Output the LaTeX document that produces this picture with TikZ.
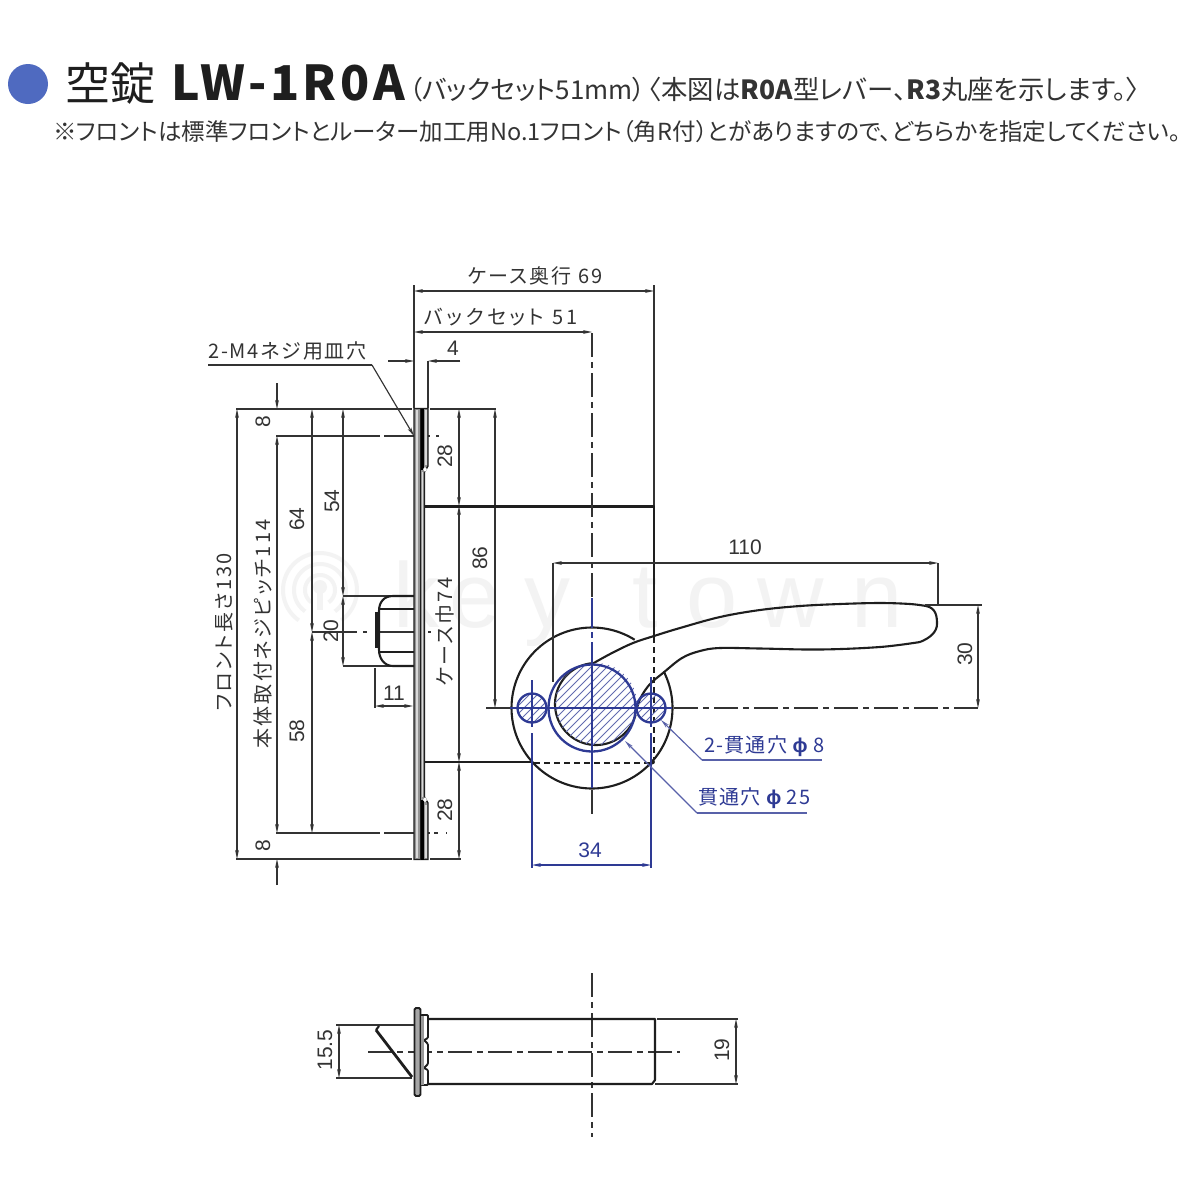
\documentclass[tikz,border=0pt]{standalone}
\usepackage{fontspec}
\usetikzlibrary{arrows.meta}
\setmainfont{Noto Sans CJK JP}
\newfontfamily\jp[RawFeature=+palt]{Noto Sans CJK JP}
\newfontfamily\jps[RawFeature=+palt,LetterSpace=11]{Noto Sans CJK JP}
\newfontfamily\jpw[RawFeature=+palt,LetterSpace=6]{Noto Sans CJK JP}
\newfontfamily\dimf{Liberation Sans}
\newfontfamily\phif[LetterSpace=0]{Liberation Sans}
\newcommand{\fs}[1]{\fontsize{#1}{#1}\selectfont}
\newcommand{\phig}{{\phif\bfseries ϕ}}
\definecolor{ink}{HTML}{1E1E1E}
\definecolor{dimc}{HTML}{333333}
\definecolor{bl}{HTML}{2E3A94}
\definecolor{dot}{HTML}{4F6AC0}
\definecolor{wm}{HTML}{F3F3F3}
\tikzset{
  outl/.style={draw=ink,line width=2.1pt,line join=round},
  thin2/.style={draw=dimc,line width=1.15pt},
  dimen/.style={draw=dimc,line width=1.15pt,{Stealth[length=9pt,width=3.8pt]}-{Stealth[length=9pt,width=3.8pt]}},
  darr/.style={draw=dimc,line width=1.15pt,-{Stealth[length=9pt,width=3.8pt]}},
  bdim/.style={draw=bl,line width=1.15pt,{Stealth[length=9pt,width=3.8pt]}-{Stealth[length=9pt,width=3.8pt]}},
  barr/.style={draw=bl!80,line width=1.15pt,{Stealth[length=9pt,width=3.8pt]}-},
  cline/.style={draw=dimc,line width=1.15pt,dash pattern=on 24pt off 5pt on 6pt off 5pt},
  bline/.style={draw=bl,line width=1.3pt,dash pattern=on 30pt off 4pt on 6pt off 4pt},
  dsh/.style={draw=ink,line width=1.4pt,dash pattern=on 6pt off 4pt},
  dtxt/.style={inner sep=0pt,text=dimc,font=\dimf\fs{21}},
  dtxtr/.style={dtxt,rotate=90},
  jtxt/.style={inner sep=0pt,text=dimc,font=\jps\fs{20}},
  jtxtr/.style={jtxt,rotate=90},
  btxt/.style={inner sep=0pt,text=bl,font=\jpw\fs{20},anchor=west},
  plate/.style={draw=ink,line width=1.4pt,fill=black!42},
  wmk/.style={inner sep=0pt,anchor=base west,text=wm,font=\dimf\fs{92}},
}
\begin{document}
\begin{tikzpicture}[x=1pt,y=-1pt]
\useasboundingbox (0,0) rectangle (1200,1200);
\fill[white] (0,0) rectangle (1200,1200);
% watermark
\begin{scope}[draw=wm,line width=4pt]
\foreach \r in {15,26,37}{\draw plot[domain=125:415,samples=60,variable=\a] ({320+\r*cos(\a)},{590+\r*sin(\a)});}
\fill[wm] (320,587) circle (7);
\fill[wm] (317,590) rectangle (323,610);
\end{scope}
\node[wmk] (wk) at (393,627) {k};
\node[wmk] (we) at (449,627) {e};
\node[wmk] (wy) at (524,627) {y};
\node[wmk] (wt) at (632,627) {t};
\node[wmk] (wo) at (686,627) {o};
\node[wmk] (ww) at (757,627) {w};
\node[wmk] (wn) at (851,627) {n};
% header
\fill[dot] (28,84) circle (20);
\node[inner sep=0pt,anchor=base west,text=ink,font=\jp\fs{45}] (t1) at (65,100) {空錠};
\node[inner sep=0pt,anchor=base west,text=ink,font=\jp\bfseries\fs{48}\addfontfeature{LetterSpace=7.5}] (t2) at (171,100) {LW-1R0A};
\node[inner sep=0pt,anchor=base west,text=dimc,font=\jp\fs{26}] (t3) at (409,99) {（バックセット51mm）};
\node[inner sep=0pt,anchor=base west,text=dimc,font=\jp\fs{26.4}] (t4) at (648,99) {〈本図は\textbf{R0A}型レバー、\textbf{R3}丸座を示します。〉};
\node[inner sep=0pt,anchor=base west,text=dimc,font=\jp\fs{23.5}] (t5) at (53,140) {※フロントは標準フロントとルーター加工用No.1フロント（角R付）とがありますので、どちらかを指定してください。};
% extension lines, top
\draw[thin2] (414,285) -- (414,408);
\draw[thin2] (654,285) -- (654,506);
\draw[dimen] (414,291) -- (654,291);
\node[jtxt] (l69) at (535,276) {ケース奥行 69};
\draw[dimen] (414,332) -- (592,332);
\node[jtxt,font=\jps\fs{20}\addfontfeature{LetterSpace=17}] (l51) at (501,317) {バックセット 51};
\draw[thin2] (428,361) -- (428,408);
\draw[darr] (388,361) -- (414,361);
\draw[darr] (460,361) -- (428,361);
\node[dtxt] (l4) at (453,348) {4};
% screw label
\node[jtxt,anchor=west,font=\jps\fs{20}\addfontfeature{LetterSpace=9}] (m4) at (208,351) {2-M4ネジ用皿穴};
\coordinate (m4a) at (208,365);
\coordinate (m4b) at (372,365);
\coordinate (m4c) at (414,436);
\draw[thin2] (m4a) -- (m4b);
\draw[darr] (m4b) -- (m4c);
% horizontal refs
\draw[thin2] (236,409) -- (412,409);
\draw[thin2] (430,409) -- (496,409);
\draw[thin2] (236,859) -- (412,859);
\draw[thin2] (430,859) -- (461,859);
\draw[thin2] (276,436) -- (380,436);
\draw[thin2] (384,436) -- (430,436);
\draw[thin2] (436,436) -- (439,436);
\draw[thin2] (276,833) -- (380,833);
\draw[thin2] (384,833) -- (430,833);
\draw[thin2] (434,833) -- (438,833);
\draw[thin2] (446,833) -- (447,833);
% verticals
\draw[dimen] (237,409) -- (237,859);
\draw[darr] (277,383) -- (277,409);
\draw[dimen] (277,436) -- (277,833);
\draw[darr] (277,885) -- (277,859);
\draw[dimen] (312,409) -- (312,632);
\draw[dimen] (312,632) -- (312,833);
\draw[dimen] (343,409) -- (343,596);
\draw[dimen] (343,596) -- (343,666);
\draw[dimen] (459,409) -- (459,506);
\draw[dimen] (459,506) -- (459,762);
\draw[dimen] (459,762) -- (459,859);
\draw[dimen] (495,409) -- (495,708);
\node[dtxtr] (l8a) at (263,422) {8};
\node[dtxtr] (l8b) at (263,846) {8};
\node[jtxtr] (lfl) at (224,632) {フロント長さ130};
\node[jtxtr] (lpt) at (263,634) {本体取付ネジピッチ114};
\node[dtxtr] (l64) at (297,519) {64};
\node[dtxtr] (l54) at (332,501) {54};
\node[dtxtr] (l58) at (297,731) {58};
\node[dtxtr] (l20) at (331,631) {20};
\node[dtxtr] (l28a) at (445,456) {28};
\node[dtxtr] (l28b) at (445,810) {28};
\node[jtxtr] (l74) at (445,632) {ケース巾74};
\node[dtxtr] (l86) at (480,558) {86};
% latch refs
\draw[thin2] (343,596) -- (392,596);
\draw[thin2] (343,666) -- (392,666);
\draw[thin2] (312,632) -- (357,632);
\draw[thin2] (363,632) -- (367,632);
\draw[thin2] (376,632) -- (414,632);
\draw[thin2] (428,632) -- (431,632);
\draw[thin2] (375,668) -- (375,708);
\draw[dimen] (375,706) -- (413,706);
\node[dtxt] (l11) at (394,693) {11};
% latch
\draw[outl] (414,596) -- (393,596) .. controls (384,596) and (379,602) .. (379,611) -- (379,650) .. controls (379,658) and (384,666) .. (393,666) -- (414,666);
\draw[outl] (379,609) -- (414,609);
\draw[outl] (379,652) -- (414,652);
\draw[draw=ink,line width=3pt] (376,612) -- (376,648);
% plate
\path[plate] (414,408.5) -- (428,408.5) -- (428,466) -- (424.5,472) -- (424.5,797) -- (428,803) -- (428,859.5) -- (414,859.5) -- cycle;
\draw[draw=white!85!black,line width=1.6pt] (417,410) -- (417,858);
\draw[draw=ink,line width=1.4pt] (420.5,408.5) -- (420.5,859.5);
\fill[black] (420.5,408.5) rectangle (424,470);
\fill[black] (420.5,800) rectangle (424,859.5);
\draw[draw=white!85!black,line width=1.4pt] (426,410) -- (426,465);
\draw[draw=white!85!black,line width=1.4pt] (426,805) -- (426,858);
\draw[draw=white!85!black,line width=1pt] (422.6,472) -- (422.6,797);
\fill[white] (423,469) -- (425,467) -- (427,469) -- (425,472) -- cycle;
\fill[white] (423,800) -- (425,802) -- (427,800) -- (425,797) -- cycle;
% case
\draw[outl] (425,506.5) -- (654,506.5) -- (654,636);
\draw[outl] (425,762) -- (532,762);
\draw[dsh] (654,637) -- (654,760);
\draw[dsh] (534,763) -- (652,763);
\fill[ink] (652.5,762) circle (2.4);
% rose
\draw[outl] plot[domain=-27:302,samples=120,variable=\a] ({592+80.5*cos(\a)},{708+80.5*sin(\a)});
% lever
\draw[outl] plot[smooth,tension=.6] coordinates {(592,664) (612,653) (633,643) (654,636) (680,628) (720,617) (760,610) (800,606) (840,604) (880,603) (910,604) (926,606)}
  .. controls (936,608) and (937,616) .. (937,624)
  .. controls (937,632) and (930,638) .. (920,642);
\draw[outl] plot[smooth,tension=.6] coordinates {(920,642) (880,647) (820,649.5) (760,648.5) (720,648) (700,651) (682,658) (663,673) (650,684) (641,697) (637,708)};
\draw[outl] plot[domain=15:265,samples=90,variable=\a] ({596+41*cos(\a)},{704+41*sin(\a)});
% hatch
\begin{scope}
\clip (596,704) circle (41);
\foreach \k in {-130,-122,...,130}{\draw[draw=bl!75,line width=1pt] (596+\k-70,704+70) -- (596+\k+70,704-70);}
\end{scope}
\begin{scope}
\clip (532,708) circle (14);
\foreach \k in {-24,-16,...,24}{\draw[draw=bl!75,line width=1pt] (532+\k-30,708+30) -- (532+\k+30,708-30);}
\end{scope}
\begin{scope}
\clip (651,708) circle (14);
\foreach \k in {-24,-16,...,24}{\draw[draw=bl!75,line width=1pt] (651+\k-30,708+30) -- (651+\k+30,708-30);}
\end{scope}
% blue holes
\draw[draw=bl,line width=2.3pt] (592,708) circle (43.5);
\draw[draw=bl,line width=2.3pt] (532,708) circle (14.5);
\draw[draw=bl,line width=2.3pt] (651,708) circle (14.5);
% centre lines
\draw[cline] (592,333) -- (592,598);
\draw[bline] (592,598) -- (592,664);
\draw[draw=bl,line width=1.3pt] (592,664) -- (592,788);
\draw[cline] (592,790) -- (592,815);
\draw[cline] (486,708) -- (510,708);
\draw[draw=bl,line width=1.3pt] (510,708) -- (672,708);
\draw[cline] (674,708) -- (982,708);
\draw[draw=bl,line width=1.3pt] (532,680) -- (532,727);
\draw[draw=bl,line width=1.3pt] (532,733) -- (532,868);
\draw[draw=bl,line width=1.3pt] (651,677) -- (651,727);
\draw[draw=bl,line width=1.3pt] (651,733) -- (651,868);
\draw[bdim] (532,865) -- (651,865);
\node[inner sep=0pt,text=bl,font=\dimf\fs{21}] (l34) at (590,850) {34};
% lever dims
\draw[thin2] (553,563) -- (553,682);
\draw[thin2] (938,563) -- (938,605);
\draw[dimen] (553,563) -- (938,563);
\node[dtxt] (l110) at (745,547) {110};
\draw[thin2] (925,605) -- (982,605);
\draw[dimen] (978,605) -- (978,708);
\node[dtxtr] (l30) at (965,654) {30};
% blue leaders
\node[btxt] (h8) at (704,746) {2-貫通穴 \phig\ 8};
\coordinate (h8tip) at (661,720);
\coordinate (h8a) at (702,760);
\coordinate (h8b) at (822,760);
\draw[barr] (h8tip) -- (h8a);
\draw[draw=bl!80,line width=1.15pt] (h8a) -- (h8b);
\node[btxt] (h25) at (698,798) {貫通穴 \phig\ 25};
\coordinate (h25tip) at (625,741);
\coordinate (h25a) at (697,813);
\coordinate (h25b) at (807,813);
\draw[barr] (h25tip) -- (h25a);
\draw[draw=bl!80,line width=1.15pt] (h25a) -- (h25b);
% lower view
\draw[cline] (592,973) -- (592,1137);
\draw[cline] (368,1052) -- (680,1052);
\draw[outl] (428,1019) -- (654,1019) -- (655,1019) -- (655,1080) -- (652,1084) -- (428,1084);
\path[plate,fill=black!35,line width=1.8pt,rounded corners=1.5pt] (414.5,1008) -- (420.5,1008) -- (420.5,1096) -- (414.5,1096) -- cycle;
\path[draw=ink,line width=1.8pt,fill=white,rounded corners=1pt] (421,1015) -- (428,1015) -- (428,1038) -- (424,1040) -- (428,1044) -- (428,1064) -- (424,1068) -- (428,1070) -- (428,1085) -- (421,1085) -- cycle;
\fill[black!40] (421,1016) rectangle (424,1085);
\draw[thin2] (336,1025) -- (414,1025);
\draw[thin2] (336,1078) -- (412,1078);
\draw[outl,line width=2.8pt] (376,1030) -- (412,1077);
\draw[outl] (376,1030) -- (379,1026);
\draw[dimen] (339,1025) -- (339,1078);
\node[dtxtr] (l155) at (325,1050) {15.5};
\draw[thin2] (657,1019) -- (738,1019);
\draw[thin2] (655,1084) -- (738,1084);
\draw[dimen] (736,1019) -- (736,1084);
\node[dtxtr] (l19) at (722,1050) {19};
\end{tikzpicture}
\end{document}
